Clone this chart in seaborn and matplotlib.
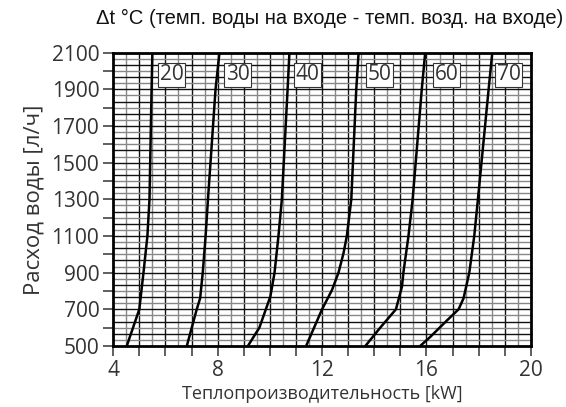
import pandas as pd
import numpy as np
import seaborn as sns
import matplotlib.pyplot as plt
from matplotlib.ticker import MultipleLocator, FuncFormatter

# curves: water flow [l/h] vs heat output [kW]
flow_20 = [500, 700, 900, 1100, 1300, 1900, 2100]
kw_20 = [4.52, 5.0, 5.16, 5.31, 5.39, 5.47, 5.5]

flow_30 = [500, 700, 760, 900, 1100, 1300, 1900, 2100]
kw_30 = [6.82, 7.2, 7.33, 7.43, 7.54, 7.63, 7.92, 8.07]

flow_40 = [500, 600, 770, 900, 1100, 1300, 1900, 2100]
kw_40 = [9.16, 9.6, 10.02, 10.18, 10.33, 10.46, 10.68, 10.75]

flow_50 = [500, 700, 805, 900, 1005, 1100, 1300, 1900, 2100]
kw_50 = [11.39, 12.0, 12.38, 12.63, 12.82, 12.95, 13.12, 13.31, 13.4]

flow_60 = [500, 600, 700, 823, 905, 1100, 1300, 1900, 2100]
kw_60 = [13.66, 14.23, 14.83, 15.06, 15.12, 15.31, 15.47, 15.82, 15.95]

flow_70 = [500, 550, 640, 700, 760, 900, 1100, 1300, 1900, 2100]
kw_70 = [15.76, 16.15, 16.79, 17.23, 17.42, 17.64, 17.83, 17.97, 18.38, 18.52]

delta_t = ["20", "30", "40", "50", "60", "70"]
label_kw = [6.25, 8.76, 11.43, 14.19, 16.76, 19.15]
label_flow = 1980

title = "\u0394t \u00b0C (темп. воды на входе - темп. возд. на входе)"
xlabel = "Теплопроизводительность [kW]"
ylabel = "Расход воды [л/ч]"

frames = []
for name, fl, kw in zip(delta_t,
                        [flow_20, flow_30, flow_40, flow_50, flow_60, flow_70],
                        [kw_20, kw_30, kw_40, kw_50, kw_60, kw_70]):
    frames.append(pd.DataFrame({"dt": name, "flow": fl, "kw": kw}))
df = pd.concat(frames, ignore_index=True)

sns.set_theme(style="white")
plt.rcParams["font.family"] = ["Open Sans", "DejaVu Sans"]

fig = plt.figure(figsize=(5.66, 4.07), dpi=100)
ax = fig.add_axes([0.2, 0.150, 0.738, 0.7205])

ax.set_xlim(4, 20)
ax.set_ylim(500, 2100)

# background grid like the printed chart
for x in np.arange(4.5, 20, 0.5):
    ax.axvline(x, color="#111111" if x % 1 == 0 else "#888888", lw=1.0, zorder=1)
for i, y in enumerate(np.arange(500 + 100 / 3, 2100, 100 / 3)):
    ax.axhline(y, color="#111111" if i % 2 else "#888888", lw=1.0, zorder=1)

sns.lineplot(data=df, x="kw", y="flow", units="dt", estimator=None, sort=False,
             color="black", lw=1.8, ax=ax, zorder=3)

for t, xk in zip(delta_t, label_kw):
    ax.text(xk, label_flow, t, ha="center", va="center", fontsize=15,
            color="#333333", zorder=4,
            bbox=dict(boxstyle="square,pad=0.08", fc="white", ec="#333333", lw=0.8))

ax.xaxis.set_major_locator(MultipleLocator(1))
ax.xaxis.set_major_formatter(FuncFormatter(lambda v, p: f"{v:.0f}" if v % 4 == 0 else ""))
ax.yaxis.set_major_locator(MultipleLocator(100))
ax.yaxis.set_major_formatter(FuncFormatter(lambda v, p: f"{v:.0f}" if (v - 500) % 200 == 0 else ""))
ax.tick_params(axis="both", which="major", direction="out", length=7, width=1.2,
               color="#444444", labelsize=15, labelcolor="#333333", pad=3,
               bottom=True, left=True)

for s in ax.spines.values():
    s.set_color("black")
    s.set_linewidth(2)
    s.set_zorder(5)

ax.set_xlabel(xlabel, fontsize=13, color="#333333", labelpad=3)
ax.set_ylabel(ylabel, fontsize=16, color="#333333", labelpad=5)

fig.text(0.995, 0.955, title, ha="right", va="center", fontsize=14.5,
         family=["Liberation Sans", "DejaVu Sans"], color="#111111")

fig.savefig("out.png", dpi=100)
